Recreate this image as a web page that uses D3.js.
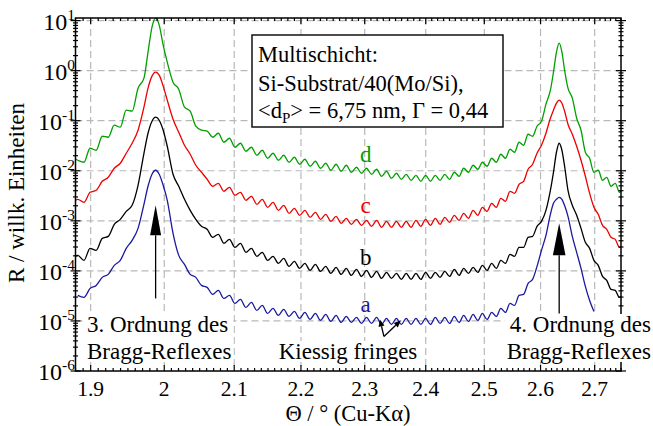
<!DOCTYPE html>
<html>
<head>
<meta charset="utf-8">
<script src="https://cdn.jsdelivr.net/npm/d3@7/dist/d3.min.js"></script>
<style>
  html, body { margin: 0; padding: 0; background: #fff; }
  svg { display: block; font-family: "Liberation Serif", "Times New Roman", serif; }
</style>
</head>
<body>
<div id="chart"></div>
<script>
// Theta positions (deg) of the sampled fringe extrema and peak points
const theta = [
  1.8800, 1.8830, 1.8911, 1.8992, 1.9073, 1.9154, 1.9234, 1.9315, 1.9396, 1.9477,
  1.9557, 1.9638, 1.9719, 1.9775, 1.9830, 1.9880, 1.9930, 1.9985, 2.0042, 2.0123,
  2.0203, 2.0284, 2.0365, 2.0445, 2.0526, 2.0607, 2.0688, 2.0768, 2.0849, 2.0930,
  2.1011, 2.1091, 2.1172, 2.1253, 2.1334, 2.1414, 2.1495, 2.1576, 2.1657, 2.1737,
  2.1818, 2.1899, 2.1980, 2.2060, 2.2141, 2.2222, 2.2303, 2.2383, 2.2464, 2.2545,
  2.2626, 2.2706, 2.2787, 2.2868, 2.2949, 2.3029, 2.3110, 2.3191, 2.3272, 2.3352,
  2.3433, 2.3514, 2.3595, 2.3675, 2.3756, 2.3837, 2.3918, 2.3998, 2.4079, 2.4160,
  2.4241, 2.4321, 2.4402, 2.4483, 2.4564, 2.4644, 2.4725, 2.4806, 2.4887, 2.4967,
  2.5048, 2.5129, 2.5210, 2.5290, 2.5371, 2.5452, 2.5533, 2.5613, 2.5694, 2.5775,
  2.5856, 2.5936, 2.6017, 2.6098, 2.6179, 2.6235, 2.6290, 2.6340, 2.6390, 2.6445,
  2.6502, 2.6582, 2.6663, 2.6744, 2.6825, 2.6905, 2.6986, 2.7067, 2.7148, 2.7228,
  2.7309, 2.7390, 2.7471, 2.7500
];

// log10(R), one array per curve
const logR_a = [
  null, -4.49, -4.53, -4.35, -4.29, -4.13, -4.07, -3.89, -3.79, -3.55,
  -3.39, -3.15, -2.67, -2.31, -2.07, -1.99, -2.07, -2.29, -2.59, -3.25,
  -3.69, -3.87, -4.07, -4.13, -4.29, -4.33, -4.47, -4.39, -4.55, -4.49,
  -4.65, -4.57, -4.73, -4.63, -4.79, -4.69, -4.85, -4.75, -4.89, -4.77,
  -4.91, -4.81, -4.95, -4.83, -4.97, -4.85, -4.99, -4.87, -5.01, -4.89,
  -5.03, -4.91, -5.03, -4.93, -5.05, -4.93, -5.05, -4.93, -5.07, -4.95,
  -5.07, -4.95, -5.07, -4.95, -5.07, -4.95, -5.07, -4.95, -5.07, -4.93,
  -5.05, -4.93, -5.05, -4.91, -5.03, -4.89, -5.01, -4.87, -4.99, -4.85,
  -4.97, -4.83, -4.91, -4.75, -4.83, -4.65, -4.69, -4.49, -4.47, -4.25,
  -4.17, -3.91, -3.59, -3.29, -2.87, -2.65, -2.57, -2.53, -2.57, -2.71,
  -2.91, -3.31, -3.63, -3.95, -4.31, -4.59, -4.81
];
const logR_b = [
  -3.71, -3.69, -3.79, -3.55, -3.59, -3.35, -3.31, -3.07, -2.97, -2.81,
  -2.69, -2.29, -1.65, -1.25, -1.01, -0.93, -0.99, -1.19, -1.51, -2.07,
  -2.31, -2.57, -2.79, -2.97, -3.11, -3.17, -3.33, -3.27, -3.45, -3.37,
  -3.53, -3.45, -3.63, -3.55, -3.71, -3.63, -3.79, -3.71, -3.85, -3.75,
  -3.91, -3.81, -3.95, -3.85, -3.99, -3.87, -4.01, -3.91, -4.05, -3.93,
  -4.07, -3.95, -4.09, -3.97, -4.11, -3.99, -4.13, -4.01, -4.15, -4.03,
  -4.15, -4.05, -4.17, -4.05, -4.17, -4.05, -4.17, -4.03, -4.15, -4.03,
  -4.13, -4.01, -4.11, -3.97, -4.09, -3.95, -4.05, -3.93, -4.03, -3.89,
  -3.99, -3.85, -3.95, -3.79, -3.85, -3.67, -3.71, -3.53, -3.53, -3.33,
  -3.31, -3.11, -3.01, -2.79, -2.39, -2.03, -1.63, -1.45, -1.59, -1.95,
  -2.39, -2.69, -2.89, -3.15, -3.43, -3.55, -3.79, -3.89, -4.11, -4.19,
  -4.37, -4.39, -4.53, -4.51
];
const logR_c = [
  -2.59, -2.57, -2.63, -2.43, -2.39, -2.21, -2.13, -1.95, -1.85, -1.65,
  -1.45, -1.19, -0.73, -0.35, -0.11, -0.03, -0.09, -0.31, -0.59, -0.97,
  -1.23, -1.49, -1.67, -1.89, -2.03, -2.17, -2.31, -2.25, -2.41, -2.33,
  -2.49, -2.43, -2.59, -2.51, -2.67, -2.57, -2.73, -2.63, -2.79, -2.69,
  -2.85, -2.75, -2.89, -2.79, -2.93, -2.83, -2.97, -2.87, -3.01, -2.91,
  -3.05, -2.95, -3.07, -2.97, -3.09, -2.99, -3.11, -2.99, -3.13, -3.01,
  -3.13, -3.01, -3.13, -3.01, -3.13, -2.99, -3.11, -2.97, -3.09, -2.95,
  -3.07, -2.93, -3.03, -2.89, -2.99, -2.85, -2.95, -2.79, -2.89, -2.73,
  -2.81, -2.65, -2.73, -2.55, -2.61, -2.41, -2.45, -2.27, -2.21, -1.97,
  -1.87, -1.65, -1.49, -1.25, -0.95, -0.79, -0.65, -0.59, -0.65, -0.83,
  -1.07, -1.27, -1.51, -1.79, -2.11, -2.45, -2.73, -2.87, -3.09, -3.17,
  -3.33, -3.37, -3.53, -3.51
];
const logR_d = [
  -1.77, -1.79, -1.83, -1.55, -1.59, -1.31, -1.33, -1.09, -1.13, -0.79,
  -0.81, -0.35, -0.15, 0.37, 0.87, 1.05, 0.91, 0.51, 0.17, -0.23,
  -0.37, -0.73, -0.81, -1.11, -1.19, -1.21, -1.33, -1.25, -1.43, -1.35,
  -1.53, -1.45, -1.61, -1.53, -1.69, -1.59, -1.75, -1.65, -1.79, -1.69,
  -1.83, -1.73, -1.87, -1.77, -1.91, -1.81, -1.95, -1.85, -1.99, -1.87,
  -2.01, -1.89, -2.03, -1.93, -2.05, -1.95, -2.07, -1.97, -2.11, -2.01,
  -2.15, -2.05, -2.17, -2.07, -2.19, -2.09, -2.21, -2.09, -2.21, -2.09,
  -2.19, -2.07, -2.17, -2.03, -2.11, -1.95, -2.03, -1.89, -1.97, -1.83,
  -1.91, -1.75, -1.83, -1.67, -1.75, -1.57, -1.63, -1.43, -1.49, -1.27,
  -1.31, -1.11, -1.01, -0.67, -0.39, -0.03, 0.37, 0.55, 0.37, -0.03,
  -0.35, -0.55, -0.95, -1.19, -1.63, -1.75, -2.03, -1.99, -2.19, -2.13,
  -2.31, -2.25, -2.43, -2.41
];

const xTickValues = [1.9, 2.0, 2.1, 2.2, 2.3, 2.4, 2.5, 2.6, 2.7];
const xTickLabels = ['1.9', '2', '2.1', '2.2', '2.3', '2.4', '2.5', '2.6', '2.7'];
const yExponents = [-6, -5, -4, -3, -2, -1, 0, 1];

const infoLines = ['Multischicht:', 'Si-Substrat/40(Mo/Si),'];

const
  totalWidth = 653,
  totalHeight = 426;
const
  plot = { left: 75.5, right: 621, top: 18, bottom: 371 };

const colors = { a: '#1a1aa0', b: '#000000', c: '#ee0000', d: '#00a000' };
const gridColor = '#b9b9b9';

//--------------------- SVG --------------------------------------------------
const svg = d3.select('#chart').append('svg')
  .attr('width', totalWidth)
  .attr('height', totalHeight);

//-------------------- Scales --------------------------------------------------
const xScale = d3.scaleLog().domain([1.88, 2.75]).range([plot.left, plot.right]);
const yScale = d3.scaleLog().domain([1e-6, 11.27]).range([plot.bottom, plot.top]);

svg.append('defs').append('clipPath').attr('id', 'plotClip')
  .append('rect')
    .attr('x', plot.left).attr('y', plot.top)
    .attr('width', plot.right - plot.left)
    .attr('height', plot.bottom - plot.top);

//--------------------- Grid ---------------------------------------------------
const grid = svg.append('g');
grid.selectAll('line.gx')
  .data(xTickValues)
  .enter().append('line')
    .attr('class', 'gx')
    .attr('x1', d => xScale(d)).attr('x2', d => xScale(d))
    .attr('y1', plot.top).attr('y2', plot.bottom);
grid.selectAll('line.gy')
  .data(yExponents.filter(e => e > -6))
  .enter().append('line')
    .attr('class', 'gy')
    .attr('x1', plot.left).attr('x2', plot.right)
    .attr('y1', d => yScale(Math.pow(10, d))).attr('y2', d => yScale(Math.pow(10, d)));
grid.selectAll('line')
  .style('stroke', gridColor)
  .style('stroke-width', 1.2)
  .style('stroke-dasharray', '7,4');

//--------------------- Curves -------------------------------------------------
const curves = [
  { key: 'a', values: logR_a },
  { key: 'b', values: logR_b },
  { key: 'c', values: logR_c },
  { key: 'd', values: logR_d }
];

const line = d3.line()
  .defined(d => d[1] !== null)
  .x(d => xScale(d[0]))
  .y(d => yScale(Math.pow(10, d[1])))
  .curve(d3.curveMonotoneX);

const curveGroup = svg.append('g').attr('clip-path', 'url(#plotClip)');
curves.forEach(function(c){
  const pts = c.values.map((v, i) => [theta[i], v]);
  curveGroup.append('path')
    .datum(pts)
    .attr('d', line)
    .attr('fill', 'none')
    .attr('stroke', colors[c.key])
    .attr('stroke-width', 1.3)
    .attr('stroke-linejoin', 'round');
});

//--------------------- Frame and ticks ----------------------------------------
const axes = svg.append('g').style('stroke', '#000').style('stroke-width', 1.2);

axes.append('rect')
  .attr('x', plot.left).attr('y', plot.top)
  .attr('width', plot.right - plot.left)
  .attr('height', plot.bottom - plot.top)
  .style('fill', 'none')
  .style('stroke-width', 1.5);

const xMinor = d3.range(188, 276).map(v => v / 100);
xMinor.forEach(function(t){
  const isMajor = xTickValues.some(m => Math.abs(m - t) < 1e-6);
  const len = isMajor ? 6 : 3;
  const xp = xScale(t);
  axes.append('line').attr('x1', xp).attr('x2', xp).attr('y1', plot.bottom).attr('y2', plot.bottom - len);
  axes.append('line').attr('x1', xp).attr('x2', xp).attr('y1', plot.top).attr('y2', plot.top + len);
});

const yMinor = [];
yExponents.forEach(function(e){
  for (let k = 1; k <= 9; k++){
    const v = k * Math.pow(10, e);
    if (v <= 11.27) yMinor.push({ v: v, major: k === 1 });
  }
});
yMinor.forEach(function(t){
  const yp = yScale(t.v);
  const a = t.major ? 5 : 2.5;
  axes.append('line').attr('x1', plot.left - a).attr('x2', plot.left + a).attr('y1', yp).attr('y2', yp);
  axes.append('line').attr('x1', plot.right - a).attr('x2', plot.right + a).attr('y1', yp).attr('y2', yp);
});

//--------------------- Tick labels --------------------------------------------
svg.append('g').selectAll('text')
  .data(xTickValues)
  .enter().append('text')
    .attr('x', d => xScale(d))
    .attr('y', 396)
    .attr('text-anchor', 'middle')
    .style('font-size', '21.5px')
    .text((d, i) => xTickLabels[i]);

const yLab = svg.append('g').selectAll('text')
  .data(yExponents)
  .enter().append('text')
    .attr('x', 75)
    .attr('y', d => yScale(Math.pow(10, d)) + 9)
    .attr('text-anchor', 'end')
    .style('font-size', '24px');
yLab.append('tspan').text('10');
yLab.append('tspan')
  .attr('dy', -10)
  .style('font-size', '15.5px')
  .text(d => String(d));

//--------------------- Axis titles --------------------------------------------
svg.append('text')
  .attr('transform', 'translate(24,193) rotate(-90)')
  .attr('text-anchor', 'middle')
  .style('font-size', '23px')
  .text('R / willk. Einheiten');

svg.append('text')
  .attr('x', 348).attr('y', 421)
  .attr('text-anchor', 'middle')
  .style('font-size', '22.5px')
  .text('\u0398 / \u00b0 (Cu-K\u03b1)');

//--------------------- Info box -----------------------------------------------
svg.append('rect')
  .attr('x', 252).attr('y', 35).attr('width', 251).attr('height', 92)
  .style('fill', '#fff').style('stroke', '#000').style('stroke-width', 1.4);
const infoText = svg.append('g').style('font-size', '22.5px');
infoLines.forEach(function(s, i){
  infoText.append('text').attr('x', 258).attr('y', 62 + i * 29).text(s);
});
const l3 = infoText.append('text').attr('x', 258).attr('y', 118);
l3.append('tspan').text('<d');
l3.append('tspan').attr('dy', 5).style('font-size', '15px').text('P');
l3.append('tspan').attr('dy', -5).text('> = 6,75 nm, \u0393 = 0,44');

//--------------------- Curve labels -------------------------------------------
const labelBase = { a: 312, b: 265, c: 213, d: 162 };
curves.forEach(function(c){
  svg.append('text')
    .attr('x', xScale(2.3) + 1).attr('y', labelBase[c.key])
    .attr('text-anchor', 'middle')
    .style('font-size', '23px')
    .style('fill', colors[c.key])
    .text(c.key);
});

//--------------------- Annotations with white background ----------------------
function note(lines, x, anchor, firstBase){
  const g = svg.append('g');
  const bg = g.append('rect').style('fill', '#fff');
  const texts = lines.map(function(s, i){
    return g.append('text')
      .attr('x', x).attr('y', firstBase + i * 27)
      .attr('text-anchor', anchor)
      .style('font-size', '23px')
      .text(s);
  });
  let x0 = Infinity, y0 = Infinity, x1 = -Infinity, y1 = -Infinity;
  texts.forEach(function(t){
    const b = t.node().getBBox();
    x0 = Math.min(x0, b.x); y0 = Math.min(y0, b.y);
    x1 = Math.max(x1, b.x + b.width); y1 = Math.max(y1, b.y + b.height);
  });
  bg.attr('x', x0 - 2).attr('y', y0 + 2).attr('width', x1 - x0 + 4).attr('height', y1 - y0 - 4);
}
note(['3. Ordnung des', 'Bragg-Reflexes'], 87, 'start', 332);
note(['4. Ordnung des', 'Bragg-Reflexes'], 651, 'end', 332);
note(['Kiessig fringes'], 348, 'middle', 359);

//--------------------- Arrows -------------------------------------------------
function arrow(from, to, headLen, headHalf){
  const x1 = xScale(from[0]), y1 = yScale(Math.pow(10, from[1]));
  const x2 = xScale(to[0]), y2 = yScale(Math.pow(10, to[1]));
  const dx = x2 - x1, dy = y2 - y1, len = Math.sqrt(dx * dx + dy * dy);
  const ux = dx / len, uy = dy / len;
  const bx = x2 - ux * headLen, by = y2 - uy * headLen;
  svg.append('line')
    .attr('x1', x1).attr('y1', y1).attr('x2', bx).attr('y2', by)
    .style('stroke', '#000').style('stroke-width', 1.3);
  svg.append('path')
    .attr('d', 'M' + x2 + ',' + y2 +
      'L' + (bx - uy * headHalf) + ',' + (by + ux * headHalf) +
      'L' + (bx + uy * headHalf) + ',' + (by - ux * headHalf) + 'Z')
    .style('fill', '#000');
}
arrow([1.988, -4.55], [1.988, -2.69], 30, 5.5);
arrow([2.634, -4.85], [2.634, -3.05], 32, 6.3);
arrow([2.331, -5.31], [2.3245, -4.97], 7, 3);
arrow([2.331, -5.31], [2.3587, -4.99], 7, 3);
</script>
</body>
</html>
